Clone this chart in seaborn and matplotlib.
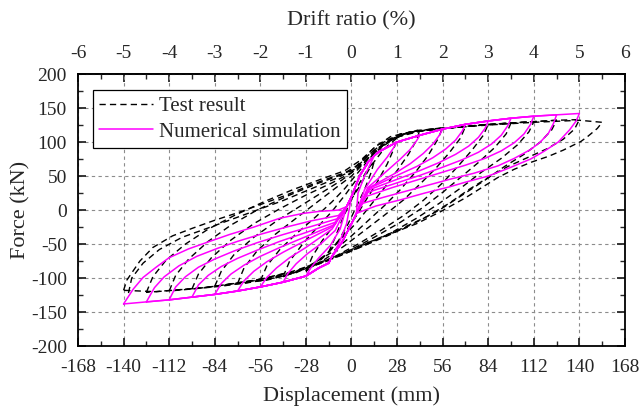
import matplotlib
matplotlib.use("Agg")
import matplotlib.pyplot as plt
from matplotlib.ticker import MultipleLocator
from matplotlib.lines import Line2D
import seaborn as sns
import pandas as pd

# ---------------- data ----------------
# Numerical simulation: loop amplitudes (mm) and peak forces (kN)
sim_amp = [14, 28, 42, 56, 70, 84, 98, 112, 126, 140]
sim_pos_peak = [80, 100, 110, 119, 126, 131, 135, 138, 140, 142]
sim_neg_peak = [-78, -97, -106, -113, -119, -124, -128, -132, -135, -138]

# shared loading branches (skeleton / envelope)
sim_up_x = [-3, 0, 5, 10, 14, 17, 28, 42, 56, 70, 84, 98, 112, 126, 140]
sim_up_y = [5, 20, 50, 70, 80, 86, 100, 110, 119, 126, 131, 135, 138, 140, 142]
sim_dn_x = [3, 0, -6, -12, -14, -20, -28, -42, -56, -70, -84, -98, -112, -126, -140]
sim_dn_y = [-5, -20, -48, -68, -78, -85, -97, -106, -113, -119, -124, -128, -132, -135, -138]

# unloading from positive peaks
sim_upos_x = [
    [12, 8, 4],
    [26, 22, 16, 8],
    [40, 36, 30, 22, 10],
    [54, 50, 44, 36, 26, 11],
    [68, 64, 58, 50, 40, 28, 11],
    [82, 78, 72, 64, 54, 42, 30, 11],
    [96, 92, 86, 78, 68, 56, 42, 28, 10],
    [110, 106, 100, 92, 82, 70, 55, 40, 25, 9],
    [124, 121, 116, 110, 100, 90, 75, 60, 40, 20, 7],
    [138, 134, 127, 118, 110, 97, 84, 70, 60, 45, 30, 15, 5],
]
sim_upos_y = [
    [70, 50, 25],
    [92, 78, 60, 30],
    [102, 89, 75, 58, 33],
    [110, 97, 83, 68, 53, 33],
    [116, 103, 90, 77, 64, 51, 32],
    [120, 107, 94, 82, 70, 58, 47, 30],
    [124, 110, 97, 85, 74, 63, 51, 40, 26],
    [126, 112, 99, 87, 76, 66, 55, 44, 33, 20],
    [127, 113, 100, 89, 76, 65, 54, 45, 32, 19, 10],
    [131, 118, 100, 86, 75, 62, 50, 41, 34, 25, 15, 6, -3],
]
# unloading from negative peaks
sim_uneg_x = [
    [-11, -7, -3],
    [-25, -20, -13, -7],
    [-39, -34, -27, -19, -10],
    [-52, -46, -38, -28, -12],
    [-66, -60, -52, -42, -30, -12],
    [-80, -74, -66, -56, -44, -30, -11],
    [-94, -88, -80, -70, -58, -44, -28, -10],
    [-108, -102, -94, -84, -72, -58, -42, -26, -9],
    [-121, -115, -106, -95, -82, -70, -55, -40, -25, -8],
    [-134, -128, -120, -112, -100, -87, -75, -60, -44, -30, -20, -8],
]
sim_uneg_y = [
    [-64, -45, -20],
    [-85, -70, -52, -28],
    [-93, -79, -64, -50, -30],
    [-99, -85, -70, -55, -28],
    [-104, -90, -76, -62, -47, -25],
    [-108, -94, -81, -68, -55, -41, -22],
    [-110, -96, -83, -71, -59, -46, -33, -18],
    [-113, -98, -84, -72, -60, -48, -36, -25, -13],
    [-114, -98, -82, -68, -56, -46, -35, -25, -16, -8],
    [-116, -99, -84, -70, -57, -46, -36, -25, -12, -5, -2, 0],
]

# Test result loops (displacement mm, force kN)
test_loop_x = [
    [-14, -10, -5, 0, 5, 10, 14, 12, 8, 3, -2, -8, -14],
    [-28, -24, -18, -10, -3, 5, 12, 20, 28, 26, 22, 16, 9, 2, -6, -14, -21, -28],
    [-42, -38, -30, -22, -12, -4, 4, 12, 20, 30, 42, 40, 35, 28, 20, 12, 4, -6, -16, -28, -42],
    [-56, -52, -44, -34, -22, -12, -4, 5, 14, 24, 36, 56, 53, 47, 40, 30, 20, 10, 0, -12, -26, -40, -56],
    [-70, -66, -58, -47, -34, -22, -10, 0, 8, 16, 26, 40, 56, 70, 67, 60, 52, 42, 32, 20, 8, -4, -18, -34, -52, -70],
    [-84, -80, -72, -60, -46, -32, -18, -6, 4, 12, 22, 34, 50, 70, 84, 81, 74, 66, 56, 44, 32, 18, 4, -10, -26, -46, -64, -84],
    [-98, -94, -86, -74, -60, -44, -28, -12, 0, 8, 18, 30, 46, 70, 98, 95, 88, 78, 68, 56, 44, 30, 14, 0, -16, -36, -60, -80, -98],
    [-112, -108, -100, -88, -74, -58, -40, -22, -6, 4, 14, 26, 42, 70, 98, 112, 109, 102, 92, 80, 68, 54, 40, 24, 8, -8, -28, -52, -80, -98, -112],
    [-126, -122, -114, -102, -88, -72, -54, -36, -18, -4, 6, 16, 30, 50, 84, 112, 126, 123, 116, 106, 94, 82, 68, 54, 38, 22, 6, -10, -30, -56, -90, -126],
    [-140, -138, -130, -122, -110, -98, -84, -70, -56, -40, -25, -10, 0, 6, 14, 24, 40, 70, 98, 126, 140, 137, 130, 120, 108, 96, 84, 72, 60, 46, 30, 14, 0, -16, -36, -60, -90, -120, -140],
    [-137, -135, -128, -118, -104, -90, -74, -58, -42, -26, -10, 2, 10, 20, 34, 56, 84, 112, 140, 154, 151, 145, 141, 130, 121, 110, 100, 90, 80, 70, 55, 40, 25, 10, 0],
]
test_loop_y = [
    [-62, -40, -10, 15, 40, 60, 72, 55, 30, 5, -20, -45, -62],
    [-90, -68, -45, -20, 5, 35, 65, 90, 106, 90, 68, 42, 15, -12, -40, -62, -78, -90],
    [-98, -75, -50, -28, -2, 22, 48, 75, 95, 110, 118, 103, 82, 58, 32, 8, -16, -42, -66, -86, -98],
    [-104, -82, -58, -35, -10, 12, 32, 58, 84, 104, 115, 121, 104, 80, 58, 30, 6, -16, -38, -62, -82, -96, -104],
    [-108, -85, -60, -36, -12, 10, 32, 50, 70, 90, 106, 116, 120, 123, 106, 84, 62, 38, 15, -8, -30, -52, -75, -92, -103, -108],
    [-112, -90, -65, -40, -16, 5, 26, 44, 62, 80, 100, 113, 119, 123, 126, 110, 88, 66, 40, 14, -8, -30, -50, -68, -85, -99, -107, -112],
    [-116, -94, -70, -44, -20, 2, 22, 40, 55, 72, 94, 110, 118, 123, 128, 112, 92, 70, 50, 26, 4, -18, -40, -58, -76, -92, -105, -112, -116],
    [-119, -96, -72, -46, -22, 0, 20, 38, 52, 66, 88, 106, 116, 123, 128, 130, 115, 96, 76, 56, 34, 10, -12, -34, -52, -68, -86, -100, -111, -116, -119],
    [-121, -98, -74, -50, -28, -8, 12, 30, 46, 58, 74, 96, 112, 119, 126, 130, 132, 118, 100, 82, 64, 44, 22, 0, -20, -38, -54, -70, -87, -102, -114, -121],
    [-118, -103, -75, -55, -38, -27, -15, -4, 8, 22, 37, 50, 58, 72, 92, 108, 117, 123, 128, 132, 133, 119, 104, 90, 77, 64, 48, 30, 10, -10, -28, -44, -58, -74, -90, -104, -114, -120, -118],
    [-122, -100, -78, -58, -40, -28, -14, 0, 14, 30, 46, 60, 80, 100, 114, 120, 125, 129, 132, 129, 120, 108, 101, 88, 79, 70, 60, 48, 33, 18, -2, -20, -34, -48, -60],
]

x_ticks = [-168, -140, -112, -84, -56, -28, 0, 28, 56, 84, 112, 140, 168]
y_ticks = [-200, -150, -100, -50, 0, 50, 100, 150, 200]
drift_ticks = [-6, -5, -4, -3, -2, -1, 0, 1, 2, 3, 4, 5, 6]
mm_per_percent = 28

# ---------------- build long tables ----------------
rows = []
for i, A in enumerate(sim_amp):
    px = [-A] + sim_uneg_x[i]
    py = [sim_neg_peak[i]] + sim_uneg_y[i]
    last = px[-1]
    for x, y in zip(sim_up_x, sim_up_y):
        if last < x < A:
            px.append(x); py.append(y)
    px.append(A); py.append(sim_pos_peak[i])
    px += sim_upos_x[i]; py += sim_upos_y[i]
    last = px[-1]
    for x, y in zip(sim_dn_x, sim_dn_y):
        if -A < x < last:
            px.append(x); py.append(y)
    px.append(-A); py.append(sim_neg_peak[i])
    for k, (x, y) in enumerate(zip(px, py)):
        rows.append(dict(loop=i, order=k, disp=x, force=y))
sim_df = pd.DataFrame(rows)

rows = []
for i, (lx, ly) in enumerate(zip(test_loop_x, test_loop_y)):
    for k, (x, y) in enumerate(zip(lx, ly)):
        rows.append(dict(loop=i, order=k, disp=x, force=y))
test_df = pd.DataFrame(rows)

# ---------------- plot ----------------
sns.set_style("ticks")
plt.rcParams["font.family"] = ["Liberation Serif", "DejaVu Serif"]
plt.rcParams["axes.unicode_minus"] = False

fig = plt.figure(figsize=(6.43, 4.17), dpi=100)
ax = fig.add_axes([0.1213, 0.170, 0.8507, 0.6525])

dash = (0, (4.5, 3))
sns.lineplot(data=test_df, x="disp", y="force", units="loop", estimator=None,
             sort=False, color="black", lw=1.0, linestyle=dash,
             legend=False, ax=ax, zorder=3)
sns.lineplot(data=sim_df, x="disp", y="force", units="loop", estimator=None,
             sort=False, color="#FF00FF", lw=1.1, legend=False, ax=ax, zorder=4)

ax.set_xlim(-168, 168)
ax.set_ylim(-200, 200)
ax.set_xticks(x_ticks)
ax.set_yticks(y_ticks)
ax.xaxis.set_minor_locator(MultipleLocator(14))
ax.yaxis.set_minor_locator(MultipleLocator(25))
ax.grid(True, which="major", color="#8c8c8c", linestyle=(0, (3, 3)), lw=0.8)
ax.set_axisbelow(True)

for s in ax.spines.values():
    s.set_linewidth(1.3)
    s.set_color("black")

ax.tick_params(axis="x", which="major", pad=9)
ax.tick_params(axis="y", which="major", pad=8)
ax.tick_params(which="major", direction="in", length=6, width=1.3,
               top=False, right=True, labelsize=14)
ax.tick_params(which="minor", direction="in", length=3.5, width=1.0,
               top=False, right=True)
ax.set_xlabel("Displacement (mm)", fontsize=16, labelpad=8)
ax.set_ylabel("Force (kN)", fontsize=16, labelpad=0)

sec = ax.secondary_xaxis("top", functions=(lambda x: x / mm_per_percent,
                                           lambda d: d * mm_per_percent))
sec.set_xticks(drift_ticks)
sec.set_xticklabels([str(d) for d in drift_ticks])
sec.xaxis.set_minor_locator(MultipleLocator(0.5))
sec.tick_params(which="major", direction="in", length=6, width=1.3,
                labelsize=14, pad=9)
sec.tick_params(which="minor", direction="in", length=3.5, width=1.0)
sec.spines["top"].set_linewidth(1.3)
sec.set_xlabel("Drift ratio (%)", fontsize=16, labelpad=14)

handles = [Line2D([], [], color="black", lw=1.0, linestyle=dash),
           Line2D([], [], color="#FF00FF", lw=1.1)]
leg = ax.legend(handles, ["Test result", "Numerical simulation"],
                loc="upper left", bbox_to_anchor=(0.027, 0.941),
                fontsize=15, frameon=True, fancybox=False, framealpha=1,
                edgecolor="black", handlelength=2.6, handletextpad=0.3,
                borderpad=0.3, labelspacing=0.3, borderaxespad=0)
leg.get_frame().set_linewidth(0.9)
leg.set_zorder(10)

fig.savefig("out.png", dpi=100)
